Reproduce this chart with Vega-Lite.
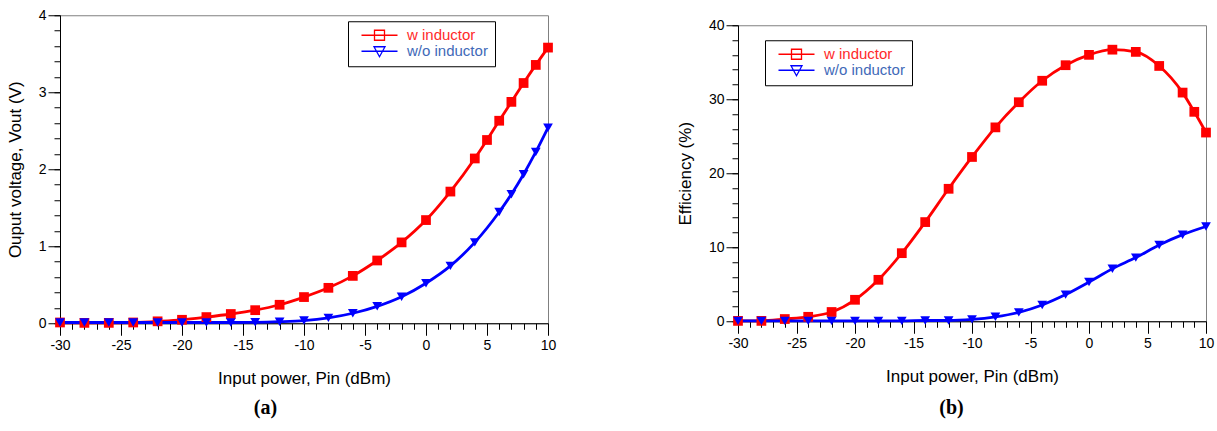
{
  "$schema": "https://vega.github.io/schema/vega-lite/v6.json",
  "padding": {"left": 5, "top": 7, "right": 3, "bottom": 0},
  "spacing": 118,
  "center": true,
  "resolve": {"legend": {"color": "independent"}, "scale": {"color": "independent"}},
  "config": {
    "view": {"stroke": "#808080", "strokeWidth": 1},
    "font": "Liberation Sans",
    "axis": {
      "grid": false,
      "domainColor": "black",
      "tickColor": "black",
      "labelColor": "black",
      "titleColor": "black",
      "labelFont": "Liberation Sans",
      "titleFont": "Liberation Sans",
      "labelFontSize": 14,
      "titleFontSize": 17,
      "titleFontWeight": "normal",
      "labelOverlap": false,
      "labelFlush": false
    },
    "legend": {
      "orient": "none",
      "title": null,
      "strokeColor": "black",
      "fillColor": "white",
      "padding": 6.5,
      "rowPadding": 0,
      "labelFont": "Liberation Sans",
      "labelFontSize": 15,
      "labelLimit": 200,
      "symbolSize": 100,
      "symbolOffset": 17.5,
      "labelOffset": 20,
      "symbolFillColor": "transparent",
      "symbolStrokeWidth": 1.3
    }
  },
  "datasets": {
    "vout": [
      {"pin": -30, "series": "w inductor", "value": 0.01},
      {"pin": -28, "series": "w inductor", "value": 0.005},
      {"pin": -26, "series": "w inductor", "value": 0.005},
      {"pin": -24, "series": "w inductor", "value": 0.01},
      {"pin": -22, "series": "w inductor", "value": 0.025},
      {"pin": -20, "series": "w inductor", "value": 0.045},
      {"pin": -18, "series": "w inductor", "value": 0.08},
      {"pin": -16, "series": "w inductor", "value": 0.12},
      {"pin": -14, "series": "w inductor", "value": 0.17},
      {"pin": -12, "series": "w inductor", "value": 0.24},
      {"pin": -10, "series": "w inductor", "value": 0.34},
      {"pin": -8, "series": "w inductor", "value": 0.46},
      {"pin": -6, "series": "w inductor", "value": 0.615},
      {"pin": -4, "series": "w inductor", "value": 0.815},
      {"pin": -2, "series": "w inductor", "value": 1.05},
      {"pin": 0, "series": "w inductor", "value": 1.34},
      {"pin": 2, "series": "w inductor", "value": 1.71},
      {"pin": 4, "series": "w inductor", "value": 2.14},
      {"pin": 5, "series": "w inductor", "value": 2.38},
      {"pin": 6, "series": "w inductor", "value": 2.63},
      {"pin": 7, "series": "w inductor", "value": 2.875},
      {"pin": 8, "series": "w inductor", "value": 3.12},
      {"pin": 9, "series": "w inductor", "value": 3.355},
      {"pin": 10, "series": "w inductor", "value": 3.58},
      {"pin": -30, "series": "w/o inductor", "value": 0.01},
      {"pin": -28, "series": "w/o inductor", "value": 0.01},
      {"pin": -26, "series": "w/o inductor", "value": 0.01},
      {"pin": -24, "series": "w/o inductor", "value": 0.01},
      {"pin": -22, "series": "w/o inductor", "value": 0.01},
      {"pin": -20, "series": "w/o inductor", "value": 0.01},
      {"pin": -18, "series": "w/o inductor", "value": 0.01},
      {"pin": -16, "series": "w/o inductor", "value": 0.01},
      {"pin": -14, "series": "w/o inductor", "value": 0.012},
      {"pin": -12, "series": "w/o inductor", "value": 0.02},
      {"pin": -10, "series": "w/o inductor", "value": 0.035},
      {"pin": -8, "series": "w/o inductor", "value": 0.07},
      {"pin": -6, "series": "w/o inductor", "value": 0.13},
      {"pin": -4, "series": "w/o inductor", "value": 0.22},
      {"pin": -2, "series": "w/o inductor", "value": 0.345},
      {"pin": 0, "series": "w/o inductor", "value": 0.52},
      {"pin": 2, "series": "w/o inductor", "value": 0.745},
      {"pin": 4, "series": "w/o inductor", "value": 1.05},
      {"pin": 6, "series": "w/o inductor", "value": 1.445},
      {"pin": 7, "series": "w/o inductor", "value": 1.675},
      {"pin": 8, "series": "w/o inductor", "value": 1.935},
      {"pin": 9, "series": "w/o inductor", "value": 2.225},
      {"pin": 10, "series": "w/o inductor", "value": 2.54}
    ],
    "eff": [
      {"pin": -30, "series": "w inductor", "value": 0.05},
      {"pin": -28, "series": "w inductor", "value": 0.05},
      {"pin": -26, "series": "w inductor", "value": 0.3},
      {"pin": -24, "series": "w inductor", "value": 0.6},
      {"pin": -22, "series": "w inductor", "value": 1.25},
      {"pin": -20, "series": "w inductor", "value": 2.9},
      {"pin": -18, "series": "w inductor", "value": 5.6},
      {"pin": -16, "series": "w inductor", "value": 9.2},
      {"pin": -14, "series": "w inductor", "value": 13.4},
      {"pin": -12, "series": "w inductor", "value": 17.9},
      {"pin": -10, "series": "w inductor", "value": 22.2},
      {"pin": -8, "series": "w inductor", "value": 26.2},
      {"pin": -6, "series": "w inductor", "value": 29.6},
      {"pin": -4, "series": "w inductor", "value": 32.5},
      {"pin": -2, "series": "w inductor", "value": 34.6},
      {"pin": 0, "series": "w inductor", "value": 36.0},
      {"pin": 2, "series": "w inductor", "value": 36.7},
      {"pin": 4, "series": "w inductor", "value": 36.4},
      {"pin": 6, "series": "w inductor", "value": 34.5},
      {"pin": 8, "series": "w inductor", "value": 30.9},
      {"pin": 9, "series": "w inductor", "value": 28.3},
      {"pin": 10, "series": "w inductor", "value": 25.5},
      {"pin": -30, "series": "w/o inductor", "value": 0.05},
      {"pin": -28, "series": "w/o inductor", "value": 0.05},
      {"pin": -26, "series": "w/o inductor", "value": 0.05},
      {"pin": -24, "series": "w/o inductor", "value": 0.05},
      {"pin": -22, "series": "w/o inductor", "value": 0.05},
      {"pin": -20, "series": "w/o inductor", "value": 0.05},
      {"pin": -18, "series": "w/o inductor", "value": 0.05},
      {"pin": -16, "series": "w/o inductor", "value": 0.05},
      {"pin": -14, "series": "w/o inductor", "value": 0.1},
      {"pin": -12, "series": "w/o inductor", "value": 0.1},
      {"pin": -10, "series": "w/o inductor", "value": 0.25},
      {"pin": -8, "series": "w/o inductor", "value": 0.6},
      {"pin": -6, "series": "w/o inductor", "value": 1.2},
      {"pin": -4, "series": "w/o inductor", "value": 2.2},
      {"pin": -2, "series": "w/o inductor", "value": 3.6},
      {"pin": 0, "series": "w/o inductor", "value": 5.3},
      {"pin": 2, "series": "w/o inductor", "value": 7.1},
      {"pin": 4, "series": "w/o inductor", "value": 8.6},
      {"pin": 6, "series": "w/o inductor", "value": 10.3},
      {"pin": 8, "series": "w/o inductor", "value": 11.7},
      {"pin": 10, "series": "w/o inductor", "value": 12.8}
    ]
  },
  "hconcat": [
    {
      "width": 488,
      "height": 308,
      "data": {"name": "vout"},
      "layer": [
        {
          "mark": {"type": "line", "strokeWidth": 2.8, "interpolate": "monotone"},
          "encoding": {
            "x": {
              "field": "pin", "type": "quantitative",
              "scale": {"domain": [-30, 10], "nice": false, "zero": false},
              "axis": {
                "orient": "bottom",
                "title": "Input power, Pin (dBm)",
                "values": [-30, -25, -20, -15, -10, -5, 0, 5, 10],
                "labelExpr": "'' + datum.value",
                "tickSize": 12,
                "labelPadding": 3,
                "titlePadding": 18
              }
            },
            "y": {
              "field": "value", "type": "quantitative",
              "scale": {"domain": [0, 4], "nice": false},
              "axis": {
                "orient": "left",
                "title": "Ouput voltage, Vout (V)",
                "values": [0, 1, 2, 3, 4],
                "labelExpr": "'' + datum.value",
                "tickSize": 12,
                "labelPadding": 2,
                "titlePadding": 14
              }
            },
            "color": {
              "field": "series", "type": "nominal",
              "scale": {"domain": ["w inductor", "w/o inductor"], "range": ["#ff0000", "#0000ff"]},
              "legend": {
                "legendX": 288, "legendY": 6,
                "symbolType": {"expr": "datum.value === 'w inductor' ? 'M-3.6,0H3.6M-1,-1H1V1H-1Z' : 'M-3.6,0H3.6M-1.1,-0.9H1.1L0,1.1Z'"},
                "encode": {
                  "symbols": {"update": {"strokeWidth": {"value": 1.3}}},
                  "labels": {"update": {"fill": {"signal": "datum.value === 'w inductor' ? '#ff2a2a' : '#4169b8'"}}}
                }
              }
            }
          }
        },
        {
          "transform": [{"filter": "datum.series === 'w inductor'"}],
          "mark": {"type": "point", "filled": true, "size": 95, "opacity": 1, "shape": "square", "color": "#ff0000"},
          "encoding": {
            "x": {
              "field": "pin", "type": "quantitative",
              "scale": {"domain": [-30, 10], "nice": false, "zero": false},
              "axis": {
                "orient": "bottom",
                "values": [-30,-29,-28,-27,-26,-25,-24,-23,-22,-21,-20,-19,-18,-17,-16,-15,-14,-13,-12,-11,-10,-9,-8,-7,-6,-5,-4,-3,-2,-1,0,1,2,3,4,5,6,7,8,9,10],
                "labels": false,
                "domain": false,
                "tickSize": 6,
                "title": "(a)",
                "titleFont": "Liberation Serif",
                "titleFontSize": 20,
                "titleFontWeight": "bold",
                "titleX": 205,
                "titleY": 84,
                "titleAlign": "center",
                "titleBaseline": "middle",
                "minExtent": 106,
                "maxExtent": 106
              }
            },
            "y": {
              "field": "value", "type": "quantitative",
              "scale": {"domain": [0, 4], "nice": false},
              "axis": {
                "orient": "left",
                "values": [0,0.2,0.4,0.6,0.8,1,1.2,1.4,1.6,1.8,2,2.2,2.4,2.6,2.8,3,3.2,3.4,3.6,3.8,4],
                "labels": false,
                "domain": false,
                "tickSize": 6,
                "title": null
              }
            }
          }
        },
        {
          "transform": [{"filter": "datum.series === 'w/o inductor'"}],
          "mark": {"type": "point", "filled": true, "size": 95, "opacity": 1, "shape": "triangle-down", "color": "#0000ff"},
          "encoding": {
            "x": {"field": "pin", "type": "quantitative", "scale": {"domain": [-30, 10], "nice": false, "zero": false}, "axis": null},
            "y": {"field": "value", "type": "quantitative", "scale": {"domain": [0, 4], "nice": false}, "axis": null}
          }
        }
      ],
      "resolve": {"axis": {"x": "independent", "y": "independent"}}
    },
    {
      "width": 468,
      "height": 296,
      "data": {"name": "eff"},
      "layer": [
        {
          "mark": {"type": "line", "strokeWidth": 2.8, "interpolate": "monotone"},
          "encoding": {
            "x": {
              "field": "pin", "type": "quantitative",
              "scale": {"domain": [-30, 10], "nice": false, "zero": false},
              "axis": {
                "orient": "bottom",
                "title": "Input power, Pin (dBm)",
                "values": [-30, -25, -20, -15, -10, -5, 0, 5, 10],
                "labelExpr": "'' + datum.value",
                "tickSize": 12,
                "labelPadding": 3,
                "titlePadding": 18
              }
            },
            "y": {
              "field": "value", "type": "quantitative",
              "scale": {"domain": [0, 40], "nice": false},
              "axis": {
                "orient": "left",
                "title": "Efficiency (%)",
                "values": [0, 10, 20, 30, 40],
                "labelExpr": "'' + datum.value",
                "tickSize": 12,
                "labelPadding": 2,
                "titlePadding": 14
              }
            },
            "color": {
              "field": "series", "type": "nominal",
              "scale": {"domain": ["w inductor", "w/o inductor"], "range": ["#ff0000", "#0000ff"]},
              "legend": {
                "legendX": 27, "legendY": 15,
                "symbolType": {"expr": "datum.value === 'w inductor' ? 'M-3.6,0H3.6M-1,-1H1V1H-1Z' : 'M-3.6,0H3.6M-1.1,-0.9H1.1L0,1.1Z'"},
                "encode": {
                  "symbols": {"update": {"strokeWidth": {"value": 1.3}}},
                  "labels": {"update": {"fill": {"signal": "datum.value === 'w inductor' ? '#ff2a2a' : '#4169b8'"}}}
                }
              }
            }
          }
        },
        {
          "transform": [{"filter": "datum.series === 'w inductor'"}],
          "mark": {"type": "point", "filled": true, "size": 95, "opacity": 1, "shape": "square", "color": "#ff0000"},
          "encoding": {
            "x": {
              "field": "pin", "type": "quantitative",
              "scale": {"domain": [-30, 10], "nice": false, "zero": false},
              "axis": {
                "orient": "bottom",
                "values": [-30,-29,-28,-27,-26,-25,-24,-23,-22,-21,-20,-19,-18,-17,-16,-15,-14,-13,-12,-11,-10,-9,-8,-7,-6,-5,-4,-3,-2,-1,0,1,2,3,4,5,6,7,8,9,10],
                "labels": false,
                "domain": false,
                "tickSize": 6,
                "title": "(b)",
                "titleFont": "Liberation Serif",
                "titleFontSize": 20,
                "titleFontWeight": "bold",
                "titleX": 213,
                "titleY": 86,
                "titleAlign": "center",
                "titleBaseline": "middle",
                "minExtent": 98,
                "maxExtent": 98
              }
            },
            "y": {
              "field": "value", "type": "quantitative",
              "scale": {"domain": [0, 40], "nice": false},
              "axis": {
                "orient": "left",
                "values": [0,2,4,6,8,10,12,14,16,18,20,22,24,26,28,30,32,34,36,38,40],
                "labels": false,
                "domain": false,
                "tickSize": 6,
                "title": null
              }
            }
          }
        },
        {
          "transform": [{"filter": "datum.series === 'w/o inductor'"}],
          "mark": {"type": "point", "filled": true, "size": 95, "opacity": 1, "shape": "triangle-down", "color": "#0000ff"},
          "encoding": {
            "x": {"field": "pin", "type": "quantitative", "scale": {"domain": [-30, 10], "nice": false, "zero": false}, "axis": null},
            "y": {"field": "value", "type": "quantitative", "scale": {"domain": [0, 40], "nice": false}, "axis": null}
          }
        }
      ],
      "resolve": {"axis": {"x": "independent", "y": "independent"}}
    }
  ]
}
